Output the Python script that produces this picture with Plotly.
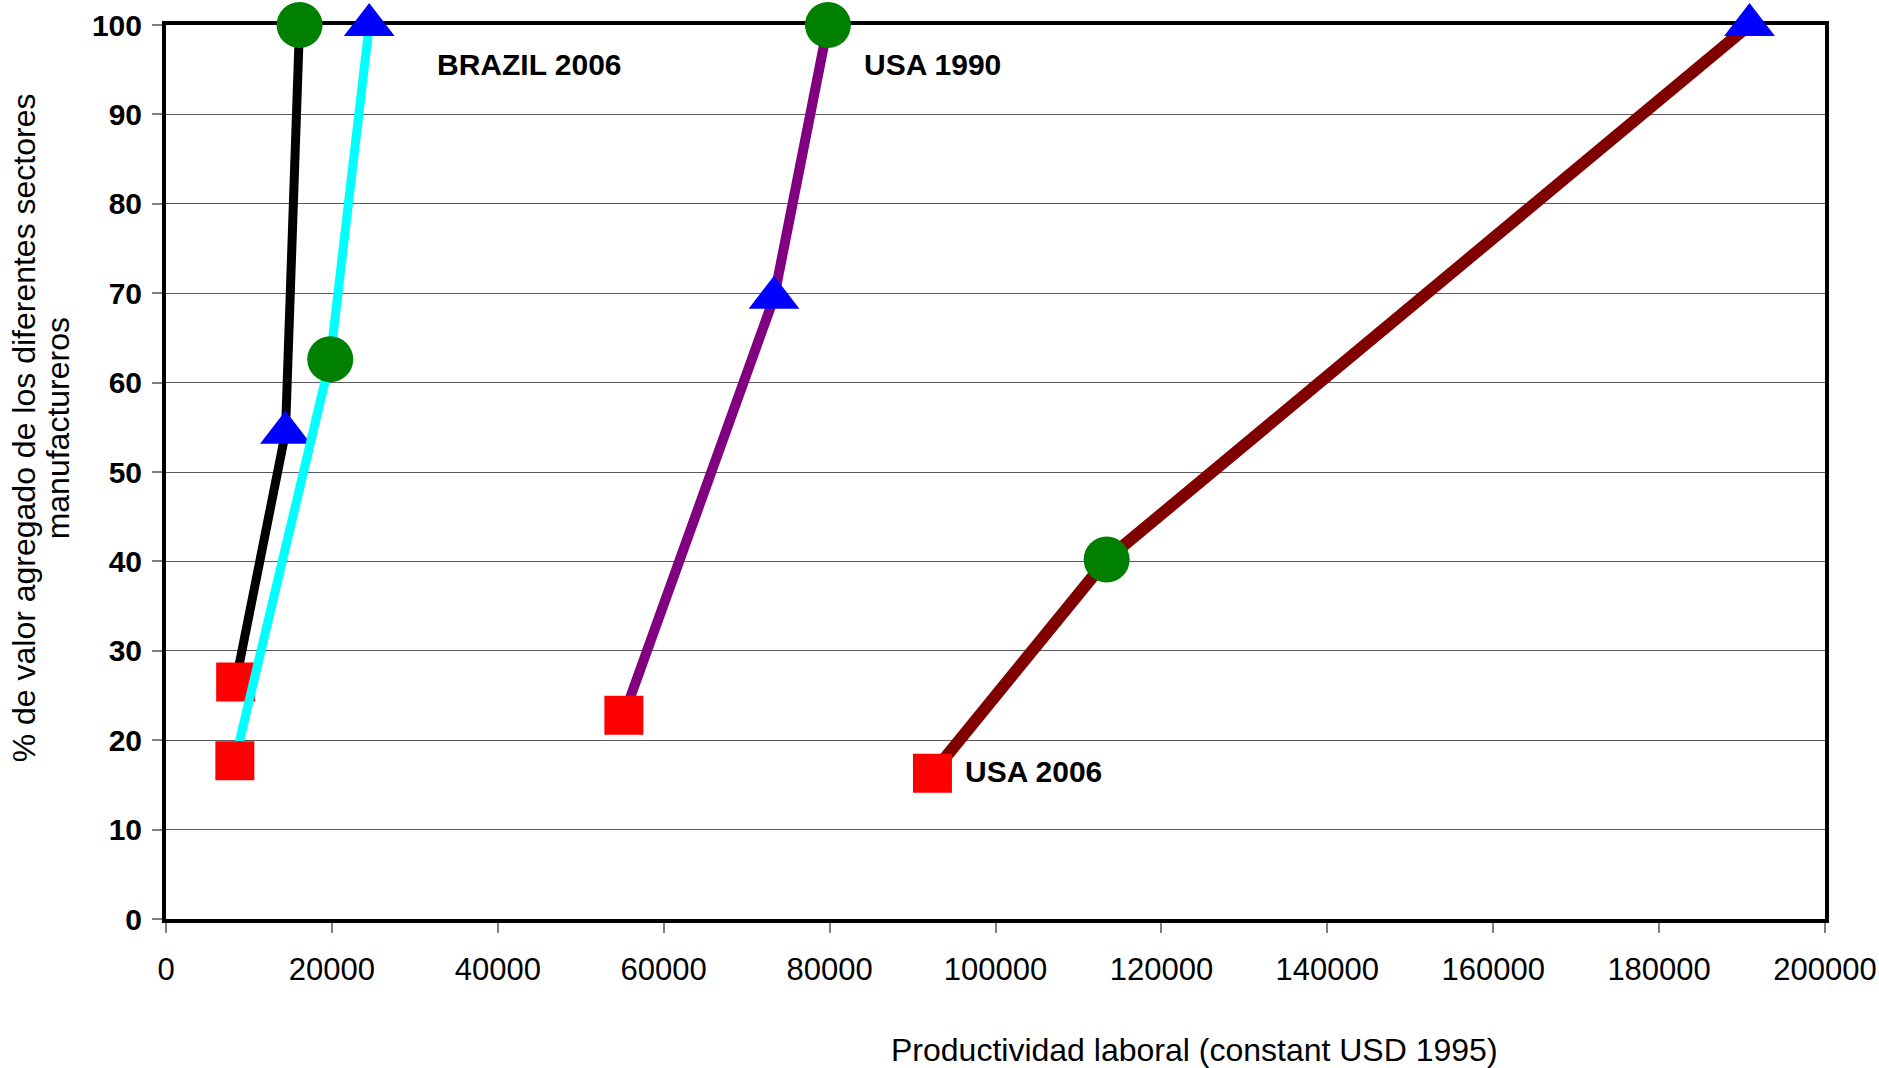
import plotly.graph_objects as go

# ---- data ----
series_names = ["BRAZIL (negro)", "BRAZIL 2006", "USA 1990", "USA 2006"]
series_colors = ["#000000", "#00FFFF", "#800080", "#800000"]
series_widths = [9, 9, 10, 12]

brazil_a_x = [8400, 14400, 16100]
brazil_a_y = [26.5, 54.4, 100]
brazil_a_sym = ["square", "triangle-up", "circle"]

brazil_b_x = [8300, 19800, 24500]
brazil_b_y = [17.7, 62.6, 100]
brazil_b_sym = ["square", "circle", "triangle-up"]

usa1990_x = [55200, 73300, 79800]
usa1990_y = [22.8, 69.5, 100]
usa1990_sym = ["square", "triangle-up", "circle"]

usa2006_x = [92400, 113400, 190900]
usa2006_y = [16.3, 40.2, 100]
usa2006_sym = ["square", "circle", "triangle-up"]

x_ticks = [0, 20000, 40000, 60000, 80000, 100000, 120000, 140000, 160000, 180000, 200000]
y_ticks = [0, 10, 20, 30, 40, 50, 60, 70, 80, 90, 100]

x_title = "Productividad laboral (constant USD 1995)"
y_title_1 = "% de valor agregado de los diferentes sectores"
y_title_2 = "manufactureros"

labels = ["BRAZIL 2006", "USA 1990", "USA 2006"]

# ---- styling ----
FONT = "Liberation Sans, Arial, sans-serif"
sym_color = {"square": "#FF0000", "triangle-up": "#0000FF", "circle": "#008000"}
sym_size = {"square": 39, "triangle-up": 44, "circle": 46}

fig = go.Figure()
all_series = [
    (brazil_a_x, brazil_a_y, brazil_a_sym),
    (brazil_b_x, brazil_b_y, brazil_b_sym),
    (usa1990_x, usa1990_y, usa1990_sym),
    (usa2006_x, usa2006_y, usa2006_sym),
]
for (xs, ys, syms), name, col, w in zip(all_series, series_names, series_colors, series_widths):
    fig.add_trace(go.Scatter(
        x=xs, y=ys, name=name, mode="lines+markers",
        line=dict(color=col, width=w),
        marker=dict(symbol=syms, opacity=1,
                    color=[sym_color[s] for s in syms],
                    size=[sym_size[s] for s in syms],
                    line=dict(width=0)),
        cliponaxis=False, showlegend=False,
    ))

label_pos = [(32400, 95.6), (83900, 95.6), (96100, 16.45)]
for txt, (lx, ly) in zip(labels, label_pos):
    fig.add_annotation(x=lx, y=ly, xref="x", yref="y", text="<b>%s</b>" % txt,
                       showarrow=False, xanchor="left", yanchor="middle",
                       font=dict(family=FONT, size=30, color="#000000"))

fig.add_annotation(x=0.62, y=-0.147, xref="paper", yref="paper", text=x_title,
                   showarrow=False, xanchor="center", yanchor="middle",
                   font=dict(family=FONT, size=32, color="#000000"))
fig.add_annotation(x=-0.0855, y=0.549, xref="paper", yref="paper", text=y_title_1,
                   showarrow=False, xanchor="center", yanchor="middle", textangle=-90,
                   font=dict(family=FONT, size=32, color="#000000"))
fig.add_annotation(x=-0.065, y=0.549, xref="paper", yref="paper", text=y_title_2,
                   showarrow=False, xanchor="center", yanchor="middle", textangle=-90,
                   font=dict(family=FONT, size=32, color="#000000"))

fig.update_layout(
    template="none",
    width=1879, height=1068,
    margin=dict(l=166, r=54, t=25, b=149, pad=0),
    paper_bgcolor="white", plot_bgcolor="white",
    font=dict(family=FONT, color="#000000"),
)
fig.update_xaxes(
    range=[0, 200000], tickmode="array", tickvals=x_ticks,
    ticktext=[str(v) for v in x_ticks], automargin=False,
    showgrid=False, zeroline=False,
    showline=True, linecolor="#000000", linewidth=4, mirror=True,
    ticks="outside", ticklen=10, tickwidth=1.5, tickcolor="#808080",
    ticklabelstandoff=10,
    tickfont=dict(family=FONT, size=31, color="#000000"),
    layer="below traces",
)
fig.update_yaxes(
    range=[0, 100], tickmode="array", tickvals=y_ticks,
    ticktext=["<b>%d</b>" % v for v in y_ticks], automargin=False,
    showgrid=True, gridcolor="#5a5a5a", gridwidth=1.3, zeroline=False,
    showline=True, linecolor="#000000", linewidth=4, mirror=True,
    ticks="outside", ticklen=10, tickwidth=1.5, tickcolor="#808080",
    ticklabelstandoff=4,
    tickfont=dict(family=FONT, size=30, color="#000000"),
    layer="below traces",
)

fig.write_html("out.html",
               config={"displayModeBar": False},
               post_script="document.body.style.margin='0';document.body.style.overflow='hidden';")
